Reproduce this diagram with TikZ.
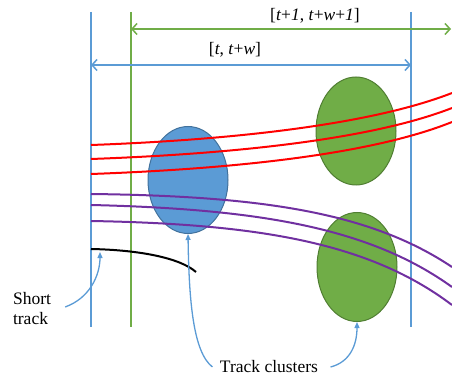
\documentclass[tikz,border=0pt]{standalone}
\usepackage{fontspec}
\setmainfont{Liberation Serif}
\usetikzlibrary{arrows.meta, shapes.geometric}
\definecolor{win-blue}{HTML}{5B9BD5}
\definecolor{win-green}{HTML}{70AD47}
\definecolor{blue-edge}{HTML}{41719C}
\definecolor{green-edge}{HTML}{507E32}
\definecolor{trk-red}{HTML}{FF0000}
\definecolor{trk-purple}{HTML}{7030A0}

\begin{document}
\begin{tikzpicture}[x=1pt, y=-1pt,
    every node/.style={font=\fontsize{17.5}{20}\selectfont},
    cluster/.style={ellipse, draw, line width=1pt, minimum width=80pt,
      minimum height=107pt, inner sep=0pt},
    bound/.style={line width=1.5pt},
    span/.style={line width=1.5pt,
      {Straight Barb[length=5pt,width=11pt]}-{Straight Barb[length=5pt,width=11pt]}},
    track/.style={line width=2pt},
    callout/.style={line width=1.3pt, color=win-blue,
      -{Triangle[length=6pt,width=5pt]}}]
    \useasboundingbox (0,0) rectangle (452,379);
    % window bounds
    \coordinate (b1t) at (91,12);  \coordinate (b1b) at (91,327);
    \coordinate (g1t) at (131,12); \coordinate (g1b) at (131,327);
    \coordinate (b2t) at (411,12); \coordinate (b2b) at (411,327);
    \draw[bound, win-blue] (b1t) -- (b1b);
    \draw[bound, win-green] (g1t) -- (g1b);
    \draw[bound, win-blue] (b2t) -- (b2b);
    \coordinate (sg1) at (131,29); \coordinate (sg2) at (451,29);
    \coordinate (sb1) at (91,65);  \coordinate (sb2) at (411,65);
    \draw[span, win-green] (sg1) -- (sg2);
    \draw[span, win-blue] (sb1) -- (sb2);
    \node (lbl-g) at (315,16)
      {[\textit{t}+\textit{1}, \textit{t}+\textit{w}+\textit{1}]};
    \node (lbl-b) at (235,50) {[\textit{t}, \textit{t}+\textit{w}]};
    % clusters
    \node[cluster, fill=win-blue, draw=blue-edge] (clu-a) at (188,180) {};
    \node[cluster, fill=win-green, draw=green-edge,
      minimum height=108pt] (clu-b) at (356,131) {};
    \node[cluster, fill=win-green, draw=green-edge,
      minimum height=109pt] (clu-c) at (357,267) {};
    % tracks
    \foreach \ya/\yb/\yc/\yd in {145/140/125/93, 159/154/140/108, 174/169/155/122}
      \draw[track, trk-red] (91,\ya) .. controls (230,\yb) and (370,\yc) .. (452,\yd);
    \foreach \ya/\yb/\yc/\yd in {194/196/212/267, 205/209/228/287, 221/224/243/305}
      \draw[track, trk-purple] (91,\ya) .. controls (260,\yb) and (370,\yc) .. (452,\yd);
    \coordinate (st0) at (91,249);
    \coordinate (st1) at (196,272);
    \draw[track, black] (st0) .. controls (140,250) and (180,258) .. (st1);
    % labels and callouts
    \node[align=left, inner sep=0pt] (lbl-short) at (32,309) {Short\\track};
    \node (lbl-clu) at (269,367) {Track clusters};
    \coordinate (st-tip) at (100,252);
    \draw[callout] ([xshift=14pt, yshift=2pt]lbl-short.east)
      .. controls (90,298) and (100,275) .. (st-tip);
    \draw[callout] ([xshift=-4pt]lbl-clu.west)
      .. controls (193,352) and (189,300) .. (clu-a.south);
    \draw[callout] ([xshift=9pt]lbl-clu.east)
      .. controls (350,362) and (357,345) .. (clu-c.south);
\end{tikzpicture}
\end{document}
